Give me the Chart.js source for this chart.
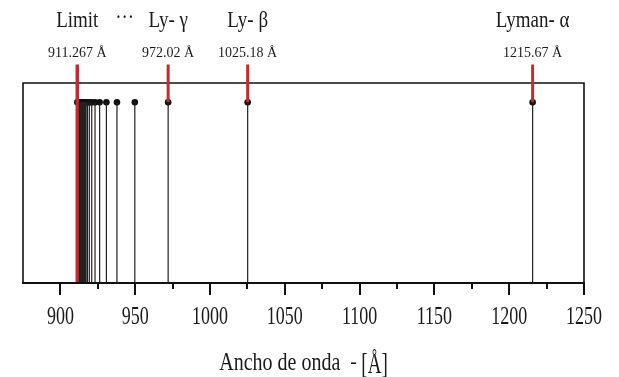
<!DOCTYPE html>
<html>
<head>
<meta charset="utf-8">
<script src="https://cdn.jsdelivr.net/npm/chart.js@4.4.0/dist/chart.umd.min.js"></script>
<style>
  html, body { margin: 0; padding: 0; background: #fff; }
  #wrap { width: 619px; height: 377px; }
</style>
</head>
<body>
<div id="wrap"><canvas id="chart"></canvas></div>
<script>
// Lyman series lines (Å)
const lineWavelengths = [1215.67, 1025.18, 972.02, 949.74, 937.80, 930.75, 926.23, 923.15,
  920.96, 919.35, 918.13, 917.18, 916.43, 915.82, 915.33, 914.92, 914.58, 914.29, 914.04,
  913.83, 913.64, 913.48, 913.33, 913.21, 913.09, 912.98, 912.88, 912.78, 912.68];

// labelled lines (red markers)
const markerNames = ['Limit', 'Ly- γ', 'Ly- β', 'Lyman- α'];
const markerValues = [911.267, 972.02, 1025.18, 1215.67];
const markerLabels = ['911.267 Å', '972.02 Å', '1025.18 Å', '1215.67 Å'];

// x axis
const xMin = 875;
const xMax = 1250;
const xTickLabels = [900, 950, 1000, 1050, 1100, 1150, 1200, 1250];
const xMinorTicks = [925, 975, 1025, 1075, 1125, 1175, 1225];
const xTitle = 'Ancho de onda';
const xUnit = '[Å]';

const lineTop = 1;      // height of the dots
const markerTop = 1.21; // red markers reach above the frame

// stretched serif text, like the squashed picture
function drawText(ctx, text, x, y, size, sy, align) {
  ctx.save();
  ctx.font = size + 'px "Liberation Serif", "Times New Roman", serif';
  ctx.textAlign = align || 'center';
  ctx.textBaseline = 'alphabetic';
  ctx.translate(x, y);
  ctx.scale(1, sy);
  ctx.fillText(text, 0, 0);
  ctx.restore();
}

const framePlugin = {
  id: 'frame',
  beforeDatasetsDraw(chart) {
    const { ctx, chartArea: a } = chart;
    ctx.save();
    ctx.strokeStyle = '#111';
    ctx.lineWidth = 1.6;
    ctx.beginPath();
    ctx.moveTo(a.left, a.bottom);
    ctx.lineTo(a.left, a.top);
    ctx.lineTo(a.right, a.top);
    ctx.lineTo(a.right, a.bottom);
    ctx.stroke();
    ctx.restore();
  },
  afterDraw(chart) {
    const { ctx, chartArea: a } = chart;
    const x = chart.scales.x;
    ctx.save();
    ctx.strokeStyle = '#111';
    ctx.fillStyle = '#1a1a1a';

    // bottom axis with ticks
    ctx.lineWidth = 2;
    ctx.beginPath();
    ctx.moveTo(a.left - 1, a.bottom);
    ctx.lineTo(a.right + 1, a.bottom);
    ctx.stroke();
    ctx.beginPath();
    xTickLabels.forEach(v => {
      const px = Math.round(x.getPixelForValue(v));
      ctx.moveTo(px, a.bottom);
      ctx.lineTo(px, a.bottom + 12);
    });
    xMinorTicks.forEach(v => {
      const px = Math.round(x.getPixelForValue(v));
      ctx.moveTo(px, a.bottom);
      ctx.lineTo(px, a.bottom + 6);
    });
    ctx.stroke();
    xTickLabels.forEach(v => {
      drawText(ctx, String(v), x.getPixelForValue(v), a.bottom + 41, 18, 1.4);
    });

    // axis title
    ctx.font = '20px "Liberation Serif", serif';
    const w1 = ctx.measureText(xTitle).width;
    ctx.font = '19px "Liberation Serif", serif';
    const w3 = ctx.measureText(xUnit).width;
    const total = w1 + 10 + 7 + 4 + w3;
    let tx = (a.left + a.right) / 2 - total / 2;
    drawText(ctx, xTitle, tx, 370, 20, 1.28, 'left');
    tx += w1 + 10;
    drawText(ctx, '-', tx, 368, 20, 1.1, 'left');
    tx += 7 + 4;
    drawText(ctx, xUnit, tx, 373, 19, 1.55, 'left');

    // marker names and wavelengths
    markerValues.forEach((v, i) => {
      const px = x.getPixelForValue(v);
      drawText(ctx, markerNames[i], px, 27, 19, 1.2);
      drawText(ctx, markerLabels[i], px, 57, 14, 1.05);
    });
    const dotsX = (x.getPixelForValue(markerValues[0]) + x.getPixelForValue(markerValues[1])) / 2;
    drawText(ctx, '···', dotsX + 2, 24, 19, 1.2);
    ctx.restore();
  }
};

const stems = lineWavelengths.flatMap(w => [{ x: w, y: 0 }, { x: w, y: lineTop }, { x: w, y: null }]);
const markers = markerValues.slice(1).flatMap(w => [{ x: w, y: lineTop }, { x: w, y: markerTop }, { x: w, y: null }]);
const limit = [{ x: markerValues[0], y: 0 }, { x: markerValues[0], y: markerTop }];
const dots = lineWavelengths.concat([markerValues[0]]).map(w => ({ x: w, y: lineTop }));

new Chart(document.getElementById('chart'), {
  type: 'scatter',
  data: {
    datasets: [
      {
        data: stems,
        showLine: true,
        spanGaps: false,
        pointRadius: 0,
        borderColor: '#222',
        borderWidth: 1.2
      },
      {
        data: limit,
        showLine: true,
        pointRadius: 0,
        borderColor: '#c42a2f',
        borderWidth: 3.5,
        clip: false
      },
      {
        data: markers,
        showLine: true,
        spanGaps: false,
        pointRadius: 0,
        borderColor: '#c42a2f',
        borderWidth: 3,
        clip: false
      },
      {
        data: dots,
        showLine: false,
        pointRadius: 3.3,
        pointBackgroundColor: '#111',
        pointBorderColor: '#111',
        pointBorderWidth: 0,
        clip: false
      }
    ]
  },
  options: {
    responsive: true,
    maintainAspectRatio: false,
    animation: false,
    layout: { padding: { left: 23, right: 35, top: 83, bottom: 94 } },
    plugins: {
      legend: { display: false },
      tooltip: { enabled: false }
    },
    scales: {
      x: { type: 'linear', min: xMin, max: xMax, display: false },
      y: { min: 0, max: 1.107, display: false }
    }
  },
  plugins: [framePlugin]
});
</script>
</body>
</html>
